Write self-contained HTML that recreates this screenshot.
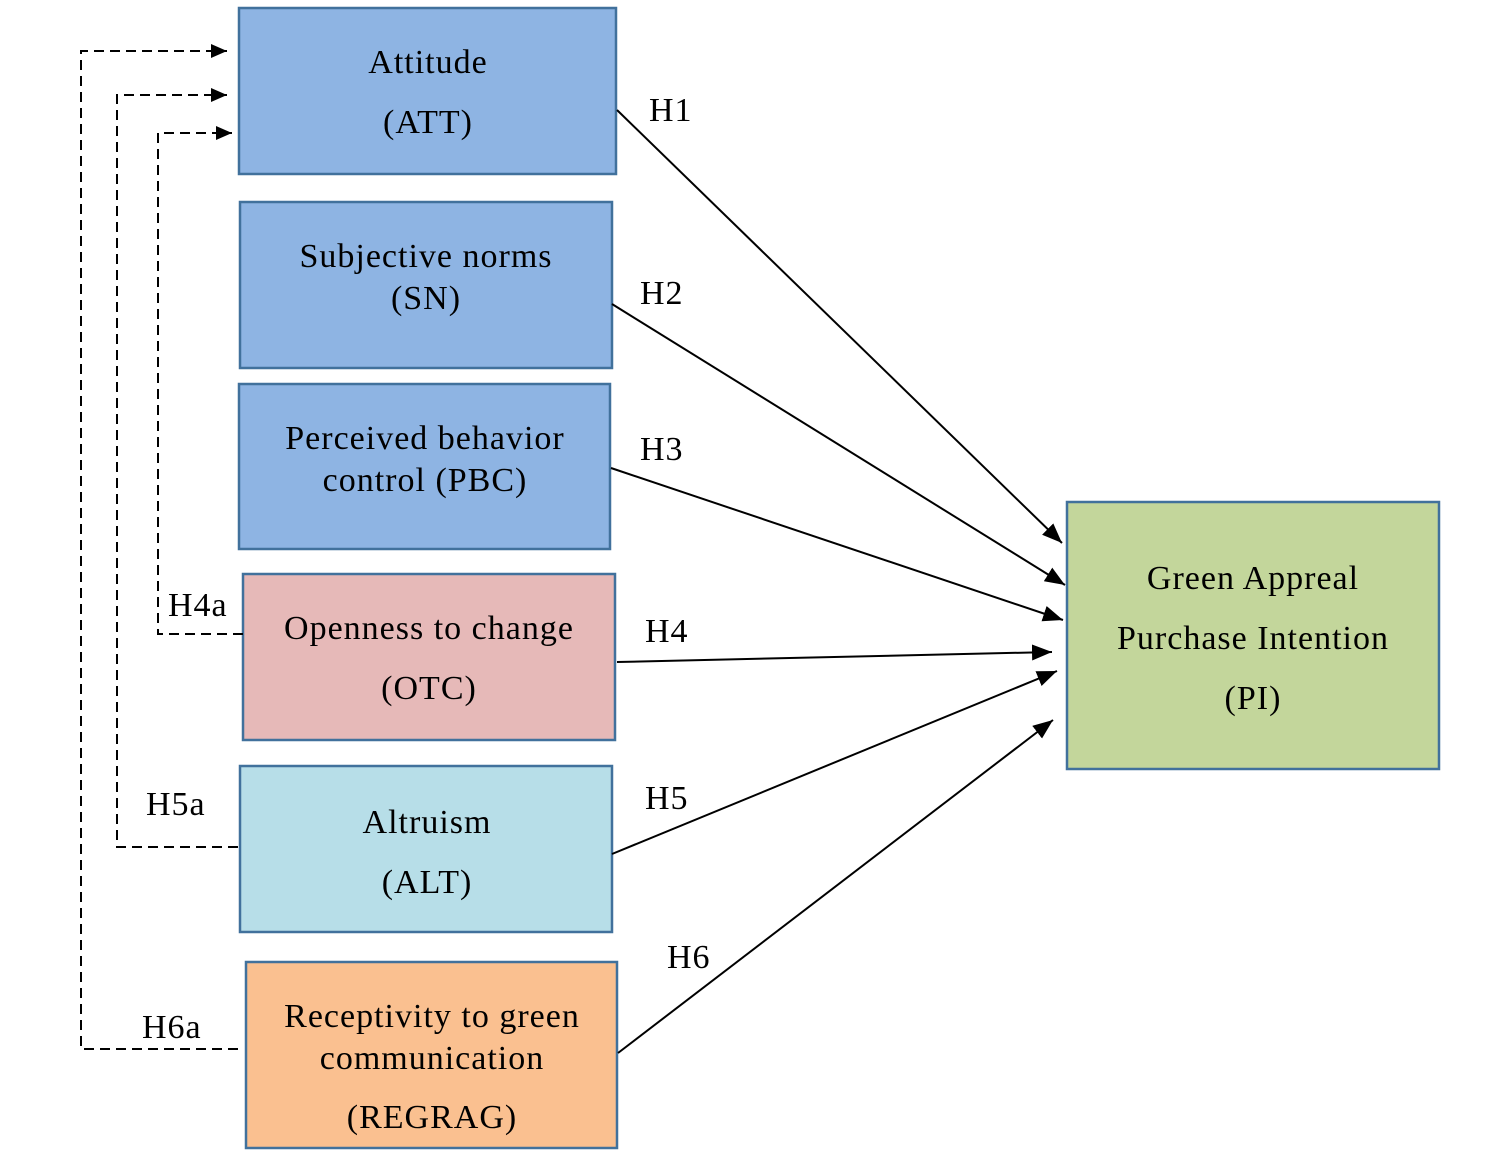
<!DOCTYPE html>
<html><head><meta charset="utf-8"><style>
html,body{margin:0;padding:0;background:#fff;}
svg{display:block;}
text{font-family:"Liberation Serif",serif;font-size:34px;letter-spacing:1px;fill:#000;}
</style></head><body>
<svg width="1505" height="1164" viewBox="0 0 1505 1164" xmlns="http://www.w3.org/2000/svg">
<defs>
<marker id="ah" viewBox="0 0 20 16" refX="20" refY="8" markerWidth="20" markerHeight="16" orient="auto" markerUnits="userSpaceOnUse"><path d="M0,0 L20,8 L0,16 z" fill="#000"/></marker>
<marker id="ad" viewBox="0 0 16 14" refX="16" refY="7" markerWidth="16" markerHeight="14" orient="auto" markerUnits="userSpaceOnUse"><path d="M0,0 L16,7 L0,14 z" fill="#000"/></marker>
</defs>
<g stroke="#41719C" stroke-width="2.5">
<rect x="239" y="8" width="377" height="166" fill="#8EB4E3"/>
<rect x="240" y="202" width="372" height="166" fill="#8EB4E3"/>
<rect x="239" y="384" width="371" height="165" fill="#8EB4E3"/>
<rect x="243" y="574" width="372" height="166" fill="#E6B9B8"/>
<rect x="240" y="766" width="372" height="166" fill="#B7DEE8"/>
<rect x="246" y="962" width="371" height="186" fill="#FAC090"/>
<rect x="1067" y="502" width="372" height="267" fill="#C3D69B"/>
</g>
<g text-anchor="middle">
<text x="428" y="73">Attitude</text>
<text x="428" y="133">(ATT)</text>
<text x="426" y="267">Subjective norms</text>
<text x="426" y="309">(SN)</text>
<text x="425" y="449">Perceived behavior</text>
<text x="425" y="491">control (PBC)</text>
<text x="429" y="639">Openness to change</text>
<text x="429" y="699">(OTC)</text>
<text x="427" y="833">Altruism</text>
<text x="427" y="893">(ALT)</text>
<text x="432" y="1027">Receptivity to green</text>
<text x="432" y="1069">communication</text>
<text x="432" y="1128">(REGRAG)</text>
<text x="1253" y="589">Green Appreal</text>
<text x="1253" y="649">Purchase Intention</text>
<text x="1253" y="709">(PI)</text>
</g>
<g stroke="#000" stroke-width="2" fill="none">
<line x1="617" y1="110" x2="1062" y2="543" marker-end="url(#ah)"/>
<line x1="612" y1="304" x2="1065" y2="585" marker-end="url(#ah)"/>
<line x1="611" y1="468" x2="1063" y2="620" marker-end="url(#ah)"/>
<line x1="617" y1="662" x2="1052" y2="652" marker-end="url(#ah)"/>
<line x1="612" y1="854" x2="1057" y2="671" marker-end="url(#ah)"/>
<line x1="618" y1="1053" x2="1053" y2="720" marker-end="url(#ah)"/>
</g>
<g stroke="#000" stroke-width="2" fill="none" stroke-dasharray="10,6">
<polyline points="243,634 158,634 158,133 232,133" marker-end="url(#ad)"/>
<polyline points="238,847 117,847 117,95 227,95" marker-end="url(#ad)"/>
<polyline points="238,1049 81,1049 81,51 227,51" marker-end="url(#ad)"/>
</g>
<text x="649" y="121">H1</text>
<text x="640" y="304">H2</text>
<text x="640" y="460">H3</text>
<text x="645" y="642">H4</text>
<text x="645" y="809">H5</text>
<text x="667" y="968">H6</text>
<text x="168" y="616">H4a</text>
<text x="146" y="815">H5a</text>
<text x="142" y="1038">H6a</text>
</svg>
</body></html>
